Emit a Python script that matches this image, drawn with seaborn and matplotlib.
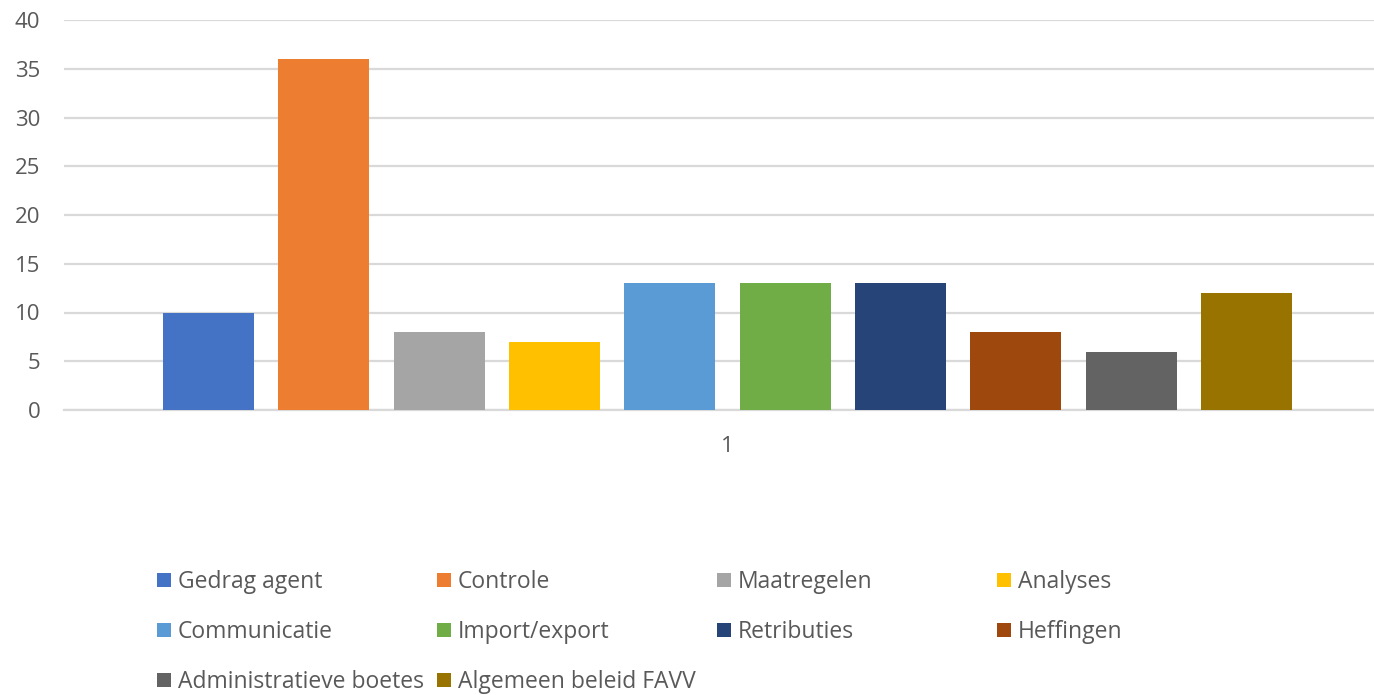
import matplotlib
matplotlib.use("Agg")
import matplotlib.pyplot as plt
import seaborn as sns
import pandas as pd

# Complaint categories and their counts
series = ["Gedrag agent", "Controle", "Maatregelen", "Analyses",
          "Communicatie", "Import/export", "Retributies", "Heffingen",
          "Administratieve boetes", "Algemeen beleid FAVV"]
counts = [10, 36, 8, 7, 13, 13, 13, 8, 6, 12]
category = ["1"] * len(series)
colors = ["#4472C4", "#ED7D31", "#A5A5A5", "#FFC000", "#5B9BD5",
          "#70AD47", "#264478", "#9E480E", "#636363", "#997300"]
y_ticks = [0, 5, 10, 15, 20, 25, 30, 35, 40]

sns.set_theme(style="white")
plt.rcParams["font.family"] = ["Open Sans", "DejaVu Sans"]
text_color = "#595959"
grid_color = "#D9D9D9"
fs_tick = 16
fs_leg = 16.5

W, H = 1374, 695
fig = plt.figure(figsize=(W / 100, H / 100), dpi=100)
ax = fig.add_axes([64 / W, 1 - 410 / H, 1 - 64 / W, 390 / H])

df = pd.DataFrame({"cat": category, "serie": series, "n": counts})
sns.barplot(data=df, x="cat", y="n", hue="serie", hue_order=series,
            palette=colors, width=0.8, gap=0.21, saturation=1,
            linewidth=0, ax=ax, zorder=3)

ax.set_xlim(-0.4603, 0.4485)
ax.set_ylim(0, 40)
ax.set_yticks(y_ticks)
ax.yaxis.grid(True, color=grid_color, linewidth=1.6, zorder=0)
ax.set_axisbelow(True)
for side in ["left", "right", "top"]:
    ax.spines[side].set_visible(False)
ax.spines["bottom"].set_color(grid_color)
ax.spines["bottom"].set_linewidth(1.6)
ax.set_xlabel("")
ax.set_ylabel("")
ax.tick_params(axis="y", length=0, pad=17, labelsize=fs_tick, labelcolor=text_color)
ax.tick_params(axis="x", length=0, pad=19, labelsize=fs_tick, labelcolor=text_color)

# Legend: Excel-style grid of fixed-width columns, filled row by row
handles, labels = ax.get_legend_handles_labels()
ax.get_legend().remove()
col_x = [157, 437, 717, 997]
row_y = [582, 632, 682]
for i, (h, lab) in enumerate(zip(handles, labels)):
    r, c = divmod(i, 4)
    fig.legend([h], [lab], loc="center left",
               bbox_to_anchor=(col_x[c] / W, 1 - row_y[r] / H),
               frameon=False, borderpad=0, borderaxespad=0,
               handlelength=0.62, handleheight=0.62,
               handletextpad=0.28, fontsize=fs_leg, labelcolor=text_color)

fig.savefig("out.png", dpi=100)
